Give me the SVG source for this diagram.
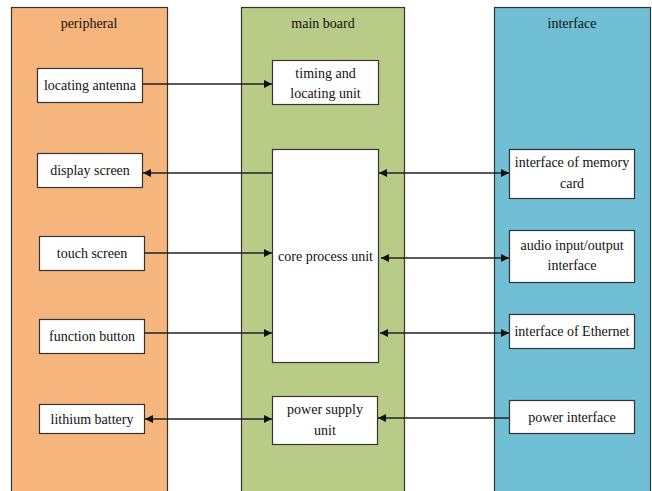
<svg xmlns="http://www.w3.org/2000/svg" width="652" height="491" viewBox="0 0 652 491">
<style>
  .box { fill: #ffffff; stroke: #333333; stroke-width: 1.2; }
  .lbl { font-family: "Liberation Serif", "Times New Roman", serif; font-size: 14px; fill: #111111; text-anchor: middle; }
  .hdr { font-family: "Liberation Serif", "Times New Roman", serif; font-size: 14px; fill: #111111; text-anchor: middle; }
  .conn { stroke: #222222; stroke-width: 1.4; fill: none; }
</style>
<defs>
  <marker id="ah" viewBox="0 0 10 10" refX="10" refY="5" markerWidth="8" markerHeight="8" markerUnits="userSpaceOnUse" orient="auto-start-reverse">
    <path d="M0,0 L10,5 L0,10 Z" fill="#111111"/>
  </marker>
</defs>
<rect width="652" height="491" fill="#ffffff"/>

<g id="col-peripheral">
  <rect x="11.5" y="7.5" width="156" height="490" fill="#F7B57E" stroke="#333333" stroke-width="1.2"/>
  <text class="hdr" x="89" y="28">peripheral</text>
</g>
<g id="col-mainboard">
  <rect x="241.5" y="7.5" width="163" height="490" fill="#B8CC88" stroke="#333333" stroke-width="1.2"/>
  <text class="hdr" x="323" y="28">main board</text>
</g>
<g id="col-interface">
  <rect x="494.5" y="7.5" width="156" height="490" fill="#70BFD4" stroke="#333333" stroke-width="1.2"/>
  <text class="hdr" x="572" y="28">interface</text>
</g>

<g id="locating-antenna">
  <rect class="box" x="37.5" y="68.5" width="105" height="34"/>
  <text class="lbl" x="90" y="90">locating antenna</text>
</g>
<g id="display-screen">
  <rect class="box" x="37.5" y="153.5" width="105" height="34"/>
  <text class="lbl" x="90" y="175">display screen</text>
</g>
<g id="touch-screen">
  <rect class="box" x="39.5" y="236.5" width="105" height="34"/>
  <text class="lbl" x="92" y="258">touch screen</text>
</g>
<g id="function-button">
  <rect class="box" x="39.5" y="319.5" width="105" height="34"/>
  <text class="lbl" x="92" y="341">function button</text>
</g>
<g id="lithium-battery">
  <rect class="box" x="39.5" y="404.5" width="105" height="29"/>
  <text class="lbl" x="92" y="424">lithium battery</text>
</g>

<g id="timing-unit">
  <rect class="box" x="272.5" y="60.5" width="106" height="44"/>
  <text class="lbl" x="325.5" y="78">timing and</text>
  <text class="lbl" x="325.5" y="98">locating unit</text>
</g>
<g id="core-process-unit">
  <rect class="box" x="272.5" y="149.5" width="106" height="213"/>
  <text class="lbl" x="325.5" y="261">core process unit</text>
</g>
<g id="power-supply-unit">
  <rect class="box" x="272.5" y="396.5" width="105" height="48"/>
  <text class="lbl" x="325" y="414">power supply</text>
  <text class="lbl" x="325" y="435">unit</text>
</g>

<g id="memory-card">
  <rect class="box" x="509.5" y="149.5" width="125" height="49"/>
  <text class="lbl" x="572" y="167">interface of memory</text>
  <text class="lbl" x="572" y="188">card</text>
</g>
<g id="audio-interface">
  <rect class="box" x="509.5" y="230.5" width="125" height="52"/>
  <text class="lbl" x="572" y="250">audio input/output</text>
  <text class="lbl" x="572" y="270">interface</text>
</g>
<g id="ethernet">
  <rect class="box" x="509.5" y="314.5" width="125" height="34"/>
  <text class="lbl" x="572" y="336">interface of Ethernet</text>
</g>
<g id="power-interface">
  <rect class="box" x="509.5" y="400.5" width="125" height="33"/>
  <text class="lbl" x="572" y="422">power interface</text>
</g>

<g id="connectors">
  <line class="conn" x1="142" y1="84" x2="272" y2="84" marker-end="url(#ah)"/>
  <line class="conn" x1="272" y1="173" x2="143" y2="173" marker-end="url(#ah)"/>
  <line class="conn" x1="144" y1="253" x2="272" y2="253" marker-end="url(#ah)"/>
  <line class="conn" x1="144" y1="333" x2="272" y2="333" marker-end="url(#ah)"/>
  <line class="conn" x1="145" y1="419" x2="272" y2="419" marker-start="url(#ah)" marker-end="url(#ah)"/>
  <line class="conn" x1="379" y1="173" x2="509" y2="173" marker-start="url(#ah)" marker-end="url(#ah)"/>
  <line class="conn" x1="381" y1="258" x2="509" y2="258" marker-start="url(#ah)" marker-end="url(#ah)"/>
  <line class="conn" x1="380" y1="333" x2="509" y2="333" marker-start="url(#ah)" marker-end="url(#ah)"/>
  <line class="conn" x1="509" y1="418" x2="378" y2="418" marker-end="url(#ah)"/>
</g>
</svg>
